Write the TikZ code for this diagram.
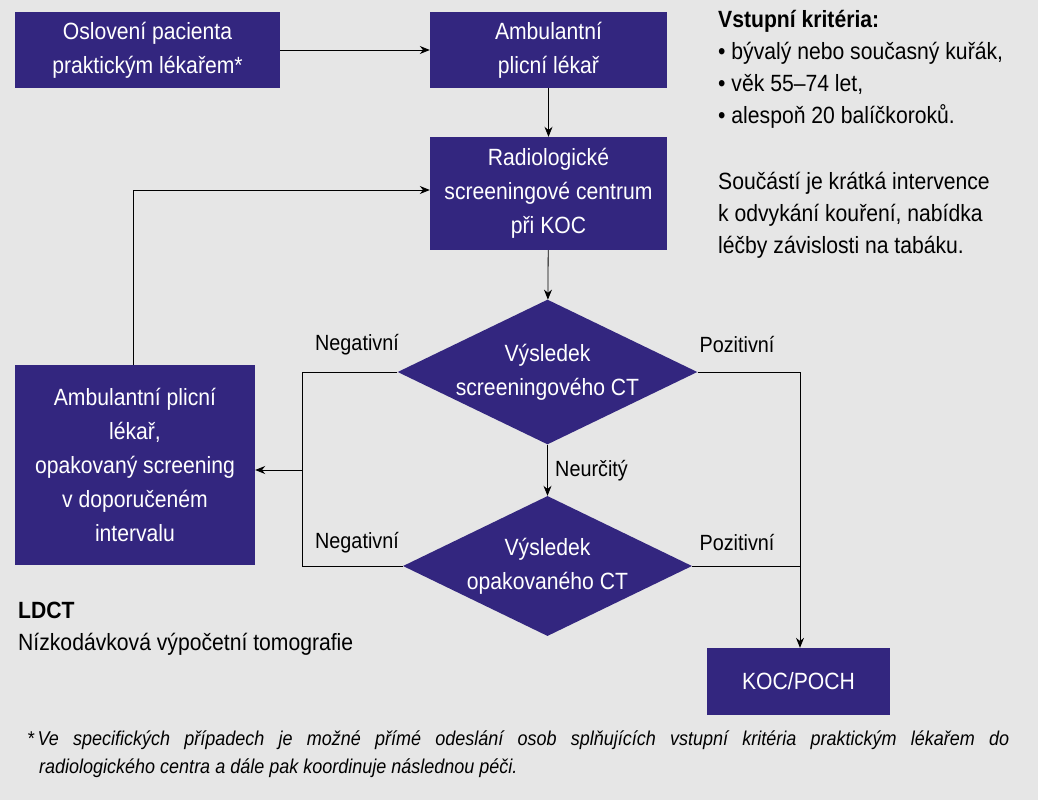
\documentclass[tikz,border=0pt]{standalone}
\usepackage{fontspec}
\setmainfont[FakeStretch=0.9]{Liberation Sans}
\usetikzlibrary{shapes.geometric,positioning,arrows.meta}
\definecolor{boxpurple}{HTML}{33267F}
\definecolor{bggray}{HTML}{E6E6E6}
\tikzset{
  box/.style={rectangle, fill=boxpurple, text=white, align=center, inner sep=0pt},
  dec/.style={diamond, fill=boxpurple, text=white, align=center, aspect=2.07, inner sep=0pt},
  lbl/.style={font=\fontsize{22}{32}\selectfont},
  side/.style={font=\fontsize{23.5}{32}\selectfont, anchor=north west, align=left, inner sep=0pt},
  line/.style={draw=black, line width=0.8pt},
  arr/.style={line, -{Stealth[length=10pt,width=8pt]}}
}
\begin{document}
\begin{tikzpicture}[x=1pt, y=-1pt, font=\fontsize{23.5}{34}\selectfont]
\fill[bggray] (0,0) rectangle (1038,800);
\useasboundingbox (0,0) rectangle (1038,800);

% Boxes
\node[box, minimum width=265pt, minimum height=76pt] (osl) at (147.5,50) {Oslovení pacienta\\praktickým lékařem*};
\node[box, minimum width=237pt, minimum height=76pt] (amb) at (548.5,50) {Ambulantní\\plicní lékař};
\node[box, minimum width=237pt, minimum height=113pt] (rad) at (548.5,193.5) {Radiologické\\screeningové centrum\\při KOC};
\node[dec, minimum width=289pt, minimum height=140pt] (ct1) at (547.5,372) {Výsledek\\screeningového CT};
\node[dec, minimum width=289pt, minimum height=140pt] (ct2) at (547.5,566) {Výsledek\\opakovaného CT};
\node[box, minimum width=240pt, minimum height=200pt] (opak) at (135,465) {Ambulantní plicní\\lékař,\\opakovaný screening\\v doporučeném\\intervalu};
\node[box, minimum width=183pt, minimum height=67pt] (koc) at (798.5,681.5) {KOC/POCH};

% Helper points
\coordinate (nl) at (302,372);
\coordinate (nl2) at (302,566);
\coordinate (nm) at (302,470);
\coordinate (pr) at (800,372);
\coordinate (pr2) at (800,566);
\coordinate (up) at (133,190);

% Connectors
\draw[arr] (osl) -- (amb);
\draw[arr] (amb) -- (rad);
\draw[arr] (rad) -- (ct1);
\draw[arr] (ct1) -- node[lbl, right=4pt] {Neurčitý} (ct2);
\draw[line] (ct1.west) -- (nl) -- (nl2) -- (ct2.west);
\draw[arr] (nm) -- (opak.east |- nm);
\draw[line] (ct1.east) -- (pr) -- (pr2);
\draw[line] (ct2.east) -- (pr2);
\draw[arr] (pr2) -- (koc.north -| pr2);
\draw[arr] (opak.north -| up) -- (up) -- (rad.west |- up);

% Labels
\node[lbl] (neg1) at (357,345) {Negativní};
\node[lbl] (neg2) at (357,543) {Negativní};
\node[lbl] (poz1) at (737,345) {Pozitivní};
\node[lbl] (poz2) at (737,543) {Pozitivní};

% Side texts
\node[side] (krit) at (718,10)
  {\textbf{Vstupní kritéria:}\\• bývalý nebo současný kuřák,\\• věk 55–74 let,\\• alespoň 20 balíčkoroků.};
\node[side] (interv) at (718,172)
  {Součástí je krátká intervence\\k odvykání kouření, nabídka\\léčby závislosti na tabáku.};
\node[side] (ldct) at (18,602)
  {\textbf{LDCT}\\Nízkodávková výpočetní tomografie};
\node[anchor=north west, inner sep=0pt, text width=982pt, align=justify,
  font=\fontsize{20}{28}\itshape\selectfont] (pozn) at (27,731)
  {*\,Ve specifických případech je možné přímé odeslání osob splňujících vstupní kritéria praktickým lékařem do\linebreak\hspace*{12pt}radiologického centra a dále pak koordinuje následnou péči.};
\end{tikzpicture}
\end{document}
